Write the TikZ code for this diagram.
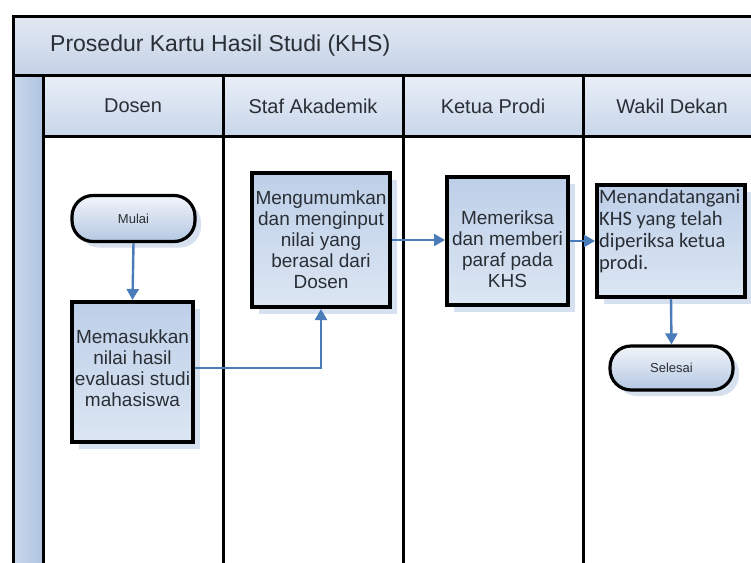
\documentclass[tikz,border=0pt]{standalone}
\usepackage{fontspec}
\setmainfont{Liberation Sans}
\newfontfamily\calibrifont{Carlito}
\usetikzlibrary{arrows.meta,shadows}
\definecolor{titletop}{HTML}{E2E9F3}
\definecolor{titlebot}{HTML}{C4D2E6}
\definecolor{hdtop}{HTML}{E9EFF7}
\definecolor{hdbot}{HTML}{C8D6EA}
\definecolor{stripl}{HTML}{CAD8EC}
\definecolor{stripr}{HTML}{AFC3E0}
\definecolor{boxtop}{HTML}{BDCFE8}
\definecolor{boxbot}{HTML}{DCE6F3}
\definecolor{termtop}{HTML}{F2F5FA}
\definecolor{termbot}{HTML}{B4C7E2}
\definecolor{shadowc}{HTML}{D6E0EE}
\definecolor{arrowc}{HTML}{4A7CBA}
\definecolor{txtc}{HTML}{2A2E35}
\tikzset{
  frameline/.style={line width=3pt, black},
  headtext/.style={inner sep=0pt, text=txtc, font=\fontsize{20}{24}\selectfont},
  procbox/.style={draw=black, line width=4pt, top color=boxtop, bottom color=boxbot,
    inner sep=1pt, align=center, text=txtc, font=\fontsize{19}{21}\selectfont,
    drop shadow={shadow xshift=7pt, shadow yshift=-7pt, fill=shadowc, opacity=1}},
  boxtext/.style={inner sep=0pt, align=center, text=txtc, font=\fontsize{19}{21}\selectfont},
  termbox/.style={draw=black, line width=3.2pt, top color=termtop, bottom color=termbot,
    rounded corners=21pt, inner sep=0pt, text=txtc, font=\fontsize{13}{15}\selectfont,
    drop shadow={shadow xshift=6pt, shadow yshift=-6pt, fill=shadowc, opacity=1}},
  flowarrow/.style={draw=arrowc, line width=2.4pt, -{Triangle[length=11pt,width=12pt]}},
}
\begin{document}
\begin{tikzpicture}[x=1pt,y=-1pt]
\useasboundingbox (0,0) rectangle (751,562);
\fill[white] (0,0) rectangle (751,562);
\begin{scope}
\clip (0,0) rectangle (751,562);
\shade[top color=titletop, bottom color=titlebot] (13,16) rectangle (770,75);
\foreach \a/\b in {43/223,223/403,403/583,583/763}
  \shade[top color=hdtop, bottom color=hdbot] (\a,75) rectangle (\b,136);
\shade[left color=stripl, right color=stripr] (13,75) rectangle (43,575);
\draw[frameline] (13,575) -- (13,16) -- (770,16);
\draw[frameline] (13,75) -- (770,75);
\draw[frameline] (43,136) -- (770,136);
\foreach \x in {43,223,403,583}
  \draw[frameline] (\x,75) -- (\x,575);
\end{scope}

\node[anchor=west, inner sep=0pt, text=txtc, font=\fontsize{23}{27}\selectfont] (title) at (50,46) {Prosedur Kartu Hasil Studi (KHS)};
\node[headtext] (hdosen) at (133,106) {Dosen};
\node[headtext] (hstaf) at (313,106) {Staf Akademik};
\node[headtext] (hketua) at (493,106) {Ketua Prodi};
\node[headtext] (hwakil) at (672,106) {Wakil Dekan};

\node[termbox, minimum width=123pt, minimum height=46pt] (mulai) at (133.5,218.5) {Mulai};
\node[procbox, minimum width=121pt, minimum height=140pt] (masuk) at (132.5,372) {};
\node[boxtext] (masuktext) at (132.5,368) {Memasukkan\\nilai hasil\\evaluasi studi\\mahasiswa};
\node[procbox, minimum width=138pt, minimum height=134pt] (staf) at (321,240) {Mengumumkan\\dan menginput\\nilai yang\\berasal dari\\Dosen};
\node[procbox, minimum width=121pt, minimum height=128pt] (ketua) at (507.5,241) {};
\node[boxtext] (ketuatext) at (507.5,249) {Memeriksa\\dan memberi\\paraf pada\\KHS};
\node[procbox, minimum width=148pt, minimum height=112pt] (wakil) at (671,241) {};
\node[anchor=north west, inner sep=0pt, align=left, text=txtc, font=\calibrifont\fontsize{20.5}{22}\selectfont] (wtext) at (599,189) {Menandatangani\\KHS yang telah\\diperiksa ketua\\prodi.};
\node[termbox, minimum width=123pt, minimum height=44pt] (selesai) at (671.5,368) {Selesai};

\draw[flowarrow] (mulai.south) -- (masuk.north);
\draw[flowarrow] ([yshift=4pt]masuk.east) -| (staf.south);
\draw[flowarrow] (staf.east) -- (ketua.west |- staf.east);
\draw[flowarrow] (ketua.east) -- (wakil.west |- ketua.east);
\draw[flowarrow] (wakil.south) -- (selesai.north);
\end{tikzpicture}
\end{document}
